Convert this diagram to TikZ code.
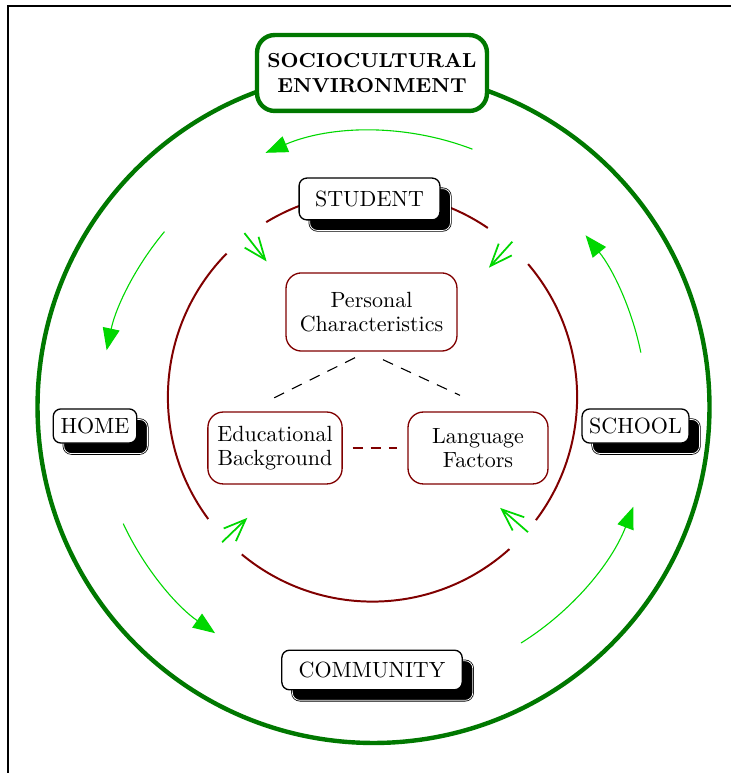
\documentclass[tikz,border=0pt]{standalone}
\usetikzlibrary{arrows.meta,shadows,calc}
\definecolor{outgreen}{RGB}{0,120,0}
\definecolor{ltgreen}{RGB}{0,215,0}
\definecolor{dkred}{RGB}{128,0,0}
\begin{document}
\begin{tikzpicture}[x=0.4545pt,y=0.4545pt,
  placebox/.style={rounded corners=3.5pt, draw=black, fill=white, line width=0.6pt,
    inner sep=0pt, font=\fontsize{10}{12}\selectfont,
    copy shadow={shadow xshift=4.8pt, shadow yshift=-4.8pt, fill=black, draw=black,
      double=white, double distance=0.35pt, line width=0.35pt}},
  factorbox/.style={rounded corners=7pt, draw=dkred, fill=white, line width=0.6pt,
    inner sep=0pt, align=center, font=\fontsize{10}{11}\selectfont},
  envbox/.style={rounded corners=8pt, draw=outgreen, fill=white, line width=2pt,
    inner sep=0pt, align=center, font=\fontsize{9.2}{11}\selectfont\bfseries},
  outerc/.style={draw=outgreen, line width=2pt},
  innerc/.style={draw=dkred, line width=0.9pt},
  flowarrow/.style={draw=ltgreen, line width=0.5pt, -{Triangle[length=10pt,width=7.7pt]}},
  inarrow/.style={draw=ltgreen, line width=0.8pt, -{Straight Barb[length=10pt,width=8pt]}},
  linkline/.style={draw=black, line width=0.5pt, dash pattern=on 5pt off 4pt},
  redlink/.style={draw=dkred, line width=0.8pt, dash pattern=on 4.5pt off 3.7pt}
]
\useasboundingbox (0,0) rectangle (731,773);
% frame
\draw[line width=0.8pt] (8,0) -- (8,767) -- (731,767);

\coordinate (C) at (373.5,366);
\coordinate (c) at (372.5,376);

% outer circle
\draw[outerc] (C) circle[radius=152.7pt];

% inner circle arcs
\draw[innerc] ($(c)+(55.7:93pt)$) arc[start angle=55.7, end angle=121.3, radius=93pt];
\draw[innerc] ($(c)+(135.5:93pt)$) arc[start angle=135.5, end angle=216.6, radius=93pt];
\draw[innerc] ($(c)+(230.3:93pt)$) arc[start angle=230.3, end angle=312, radius=93pt];
\draw[innerc] ($(c)+(323:93pt)$) arc[start angle=323, end angle=400.5, radius=93pt];

% outer flow arrows
\draw[flowarrow] ($(C)+(69:125.5pt)$) arc[start angle=69, end angle=113, radius=125.5pt];
\draw[flowarrow] ($(C)+(140:124pt)$) arc[start angle=140, end angle=168, radius=124pt];
\draw[flowarrow] ($(C)+(205:125.5pt)$) arc[start angle=205, end angle=235, radius=125.5pt];
\draw[flowarrow] ($(C)+(302:126.5pt)$) arc[start angle=302, end angle=339, radius=126.5pt];
\draw[flowarrow] ($(C)+(11.5:124pt)$) arc[start angle=11.5, end angle=39, radius=124pt];

% inner arrows
\coordinate (t1) at ($(c)+(128:208)$);
\coordinate (h1) at ($(c)+(128:172)$);
\coordinate (t2) at ($(c)+(48:209)$);
\coordinate (h2) at ($(c)+(48:174)$);
\coordinate (t3) at ($(c)+(224:209)$);
\coordinate (h3) at ($(c)+(224:174)$);
\coordinate (t4) at ($(c)+(319:206)$);
\coordinate (h4) at ($(c)+(319:169)$);
\draw[inarrow] (t1) -- (h1);
\draw[inarrow] (t2) -- (h2);
\draw[inarrow] (t3) -- (h3);
\draw[inarrow] (t4) -- (h4);

% nodes
\node[envbox, minimum width=104.5pt, minimum height=34.5pt] (socio) at (372,700) {SOCIOCULTURAL\\ENVIRONMENT};
\node[placebox, minimum width=64pt, minimum height=19pt] (student) at (369.5,574) {STUDENT};
\node[placebox, minimum width=38pt, minimum height=15.5pt] (home) at (95,347) {HOME};
\node[placebox, minimum width=48.6pt, minimum height=15.5pt] (school) at (635.5,347) {SCHOOL};
\node[placebox, minimum width=82pt, minimum height=18pt] (community) at (372,103) {COMMUNITY};

\node[factorbox, minimum width=77.7pt, minimum height=35.5pt] (pc) at (371.5,461) {Personal\\Characteristics};
\node[factorbox, minimum width=61pt, minimum height=32.7pt] (eb) at (275,325) {Educational\\Background};
\node[factorbox, minimum width=63.6pt, minimum height=32.7pt] (lf) at (478,325) {Language\\Factors};

% links
\draw[linkline] ($(pc.south)+(-16.5,-6)$) -- ($(eb.north)+(-6,11)$);
\draw[linkline] ($(pc.south)+(11.5,-8)$) -- ($(lf.north)+(-18,16)$);
\draw[redlink, shorten <=4.5pt, shorten >=4.5pt] (eb.east) -- (lf.west);
\end{tikzpicture}
\end{document}
